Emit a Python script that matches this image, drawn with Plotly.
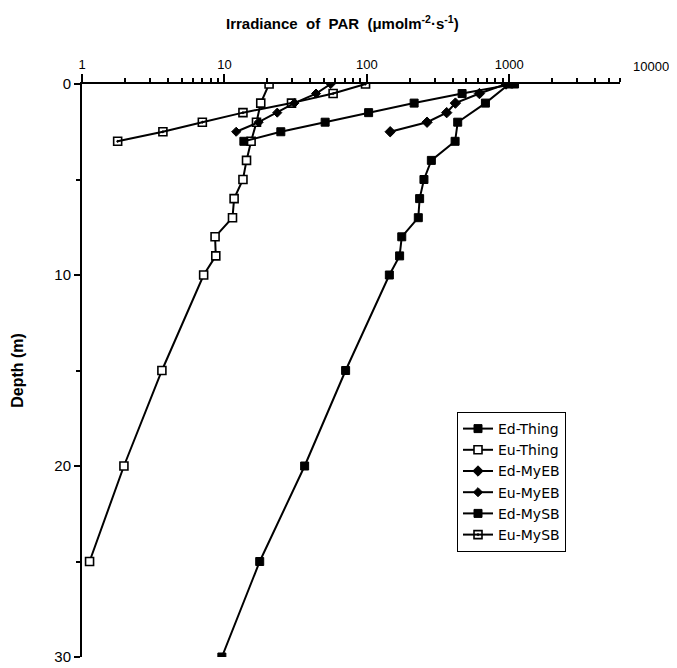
import plotly.graph_objects as go
import math

# Depth (m) and irradiance (umol m-2 s-1)
ed_thing_depth = [0, 1, 2, 3, 4, 5, 6, 7, 8, 9, 10, 15, 20, 25, 30]
ed_thing_par = [1000, 681, 435, 417, 284, 252, 235, 230, 176, 170, 144, 71, 36.6, 17.7, 9.6]

eu_thing_depth = [0, 1, 2, 3, 4, 5, 6, 7, 8, 9, 10, 15, 20, 25]
eu_thing_par = [20.6, 18.0, 16.8, 15.4, 14.3, 13.5, 11.7, 11.4, 8.6, 8.7, 7.15, 3.64, 1.97, 1.13]

ed_myeb_depth = [0, 0.5, 1, 1.5, 2, 2.5]
ed_myeb_par = [950, 618, 419, 364, 265, 146]

eu_myeb_depth = [0, 0.5, 1, 1.5, 2, 2.5]
eu_myeb_par = [55.8, 44, 31, 23.5, 17.4, 12.1]

ed_mysb_depth = [0, 0.5, 1, 1.5, 2, 2.5, 3]
ed_mysb_par = [1090, 467, 215, 103, 51, 24.9, 13.7]

eu_mysb_depth = [0, 0.5, 1, 1.5, 2, 2.5, 3]
eu_mysb_par = [98, 58, 29.6, 13.5, 7.0, 3.7, 1.78]

x_tick_vals = [1, 10, 100, 1000]
x_tick_text = ["1", "10", "100", "1000"]
y_tick_vals = [0, 10, 20, 30]

font_main = "Liberation Sans, Arial, sans-serif"

fig = go.Figure()

def add(name, x, y, symbol, size, color="black", lw=1):
    fig.add_trace(go.Scatter(
        x=x, y=y, name=name, mode="lines+markers",
        line=dict(color="black", width=2),
        marker=dict(symbol=symbol, size=size, color=color,
                    line=dict(color="black", width=lw)),
    ))

add("Ed-Thing", ed_thing_par, ed_thing_depth, "square", 8)
add("Eu-Thing", eu_thing_par, eu_thing_depth, "square", 8, color="white", lw=1.6)
add("Ed-MyEB", ed_myeb_par, ed_myeb_depth, "diamond", 8)
add("Eu-MyEB", eu_myeb_par, eu_myeb_depth, "diamond", 7)
add("Ed-MySB", ed_mysb_par, ed_mysb_depth, "square", 8, color="black", lw=1)
add("Eu-MySB", eu_mysb_par, eu_mysb_depth, "square-open-dot", 8, color="black", lw=1.6)

# page body has an 8px margin: the figure is drawn offset by (8, 8)
fig.update_layout(
    width=669, height=660,
    margin=dict(l=74, r=57, t=76, b=11),
    paper_bgcolor="white", plot_bgcolor="white",
    font=dict(family=font_main, color="black"),
    showlegend=True,
    legend=dict(
        x=(457 - 82) / 538, y=1 - (412 - 84) / 573, xanchor="left", yanchor="top",
        bordercolor="black", borderwidth=1, bgcolor="white",
        font=dict(size=14, family="DejaVu Sans, Liberation Sans, sans-serif"),
        tracegroupgap=0, itemwidth=30,
    ),
    xaxis=dict(
        type="log", side="top", range=[0, math.log10(6000)],
        tickvals=x_tick_vals, ticktext=x_tick_text,
        ticks="outside", ticklen=8, tickwidth=1.5, tickcolor="black",
        minor=dict(ticks="outside", ticklen=4, tickcolor="black", dtick="D1", showgrid=False),
        showline=True, linecolor="black", linewidth=2,
        showgrid=False, zeroline=False, automargin=False,
        tickfont=dict(size=13, family=font_main),
    ),
    yaxis=dict(
        range=[30, 0],
        tickvals=y_tick_vals,
        ticks="outside", ticklen=6, tickwidth=1.5, tickcolor="black",
        minor=dict(ticks="outside", ticklen=4, tickcolor="black", dtick=5, showgrid=False),
        showline=True, linecolor="black", linewidth=2,
        showgrid=False, zeroline=False, automargin=False,
        tickfont=dict(size=15, family=font_main),
        title=dict(text="<b>Depth (m)</b>", font=dict(size=16, family=font_main), standoff=27),
    ),
    annotations=[
        dict(text="<b>Irradiance  of  PAR  (μmolm<sup>-2</sup>·s<sup>-1</sup>)</b>",
             xref="paper", yref="paper", x=(342 - 82) / 538, y=1.0, yshift=62,
             xanchor="center", yanchor="middle", showarrow=False,
             font=dict(size=15, family=font_main)),
        dict(text="10000", xref="paper", yref="paper", x=(651 - 82) / 538, y=1.0, yshift=18,
             xanchor="center", yanchor="middle", showarrow=False,
             font=dict(size=13, family=font_main)),
    ],
)

fig.write_html("out.html")
